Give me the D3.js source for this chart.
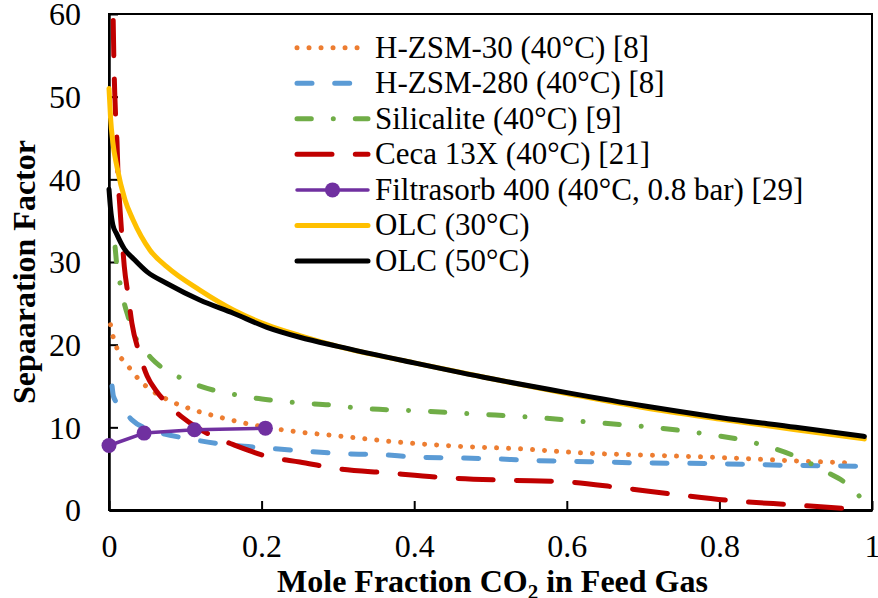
<!DOCTYPE html>
<html>
<head>
<meta charset="utf-8">
<script src="https://cdn.jsdelivr.net/npm/d3@7/dist/d3.min.js"></script>
<style>
  html, body { margin: 0; padding: 0; background: #fff; }
  svg { display: block; }
  svg text { font-family: "Liberation Serif", Tinos, "Times New Roman", Times, "DejaVu Serif", serif !important; fill: #000; }
</style>
</head>
<body>
<svg id="chart" width="878" height="598"></svg>
<script>
// Separation factor vs. CO2 mole fraction in the feed gas
const hzsm30 = [[0.002,22.4],[0.0035,21.6],[0.009,20.1],[0.012,19.0],[0.021,17.9],[0.031,16.7],[0.041,15.6],[0.054,14.6],[0.08,13.2],[0.111,12.1],[0.142,11.3],[0.173,10.6],[0.22,9.8],[0.252,9.4],[0.285,9.1],[0.316,8.8],[0.381,8.2],[0.46,7.7],[0.539,7.4],[0.621,6.9],[0.718,6.6],[0.814,6.3],[0.91,5.9],[0.974,5.7]];
const hzsm280 = [[0.004,15.0],[0.006,13.7],[0.019,12.1],[0.03,10.9],[0.062,9.5],[0.106,8.6],[0.154,7.9],[0.207,7.5],[0.259,7.1],[0.31,6.8],[0.355,6.7],[0.403,6.4],[0.453,6.3],[0.502,6.2],[0.552,6.0],[0.6,5.9],[0.7,5.7],[0.797,5.6],[0.893,5.4],[0.984,5.3]];
const silicalite = [[0.008,31.8],[0.01,29.8],[0.015,27.2],[0.02,25.0],[0.025,23.4],[0.034,21.0],[0.043,19.8],[0.055,18.4],[0.067,17.4],[0.089,16.2],[0.113,15.2],[0.137,14.5],[0.163,14.0],[0.187,13.6],[0.212,13.3],[0.25,12.95],[0.29,12.7],[0.33,12.3],[0.405,12.0],[0.482,11.6],[0.558,11.2],[0.634,10.6],[0.712,10.0],[0.79,9.1],[0.828,8.5],[0.866,7.6],[0.902,6.4],[0.936,4.8],[0.969,3.0],[0.99,1.0]];
const ceca13x = [[0.0055,59.2],[0.0065,54.0],[0.0075,50.5],[0.009,47.0],[0.0105,44.5],[0.012,40.0],[0.014,37.0],[0.017,33.0],[0.02,29.5],[0.025,26.0],[0.03,22.6],[0.04,18.9],[0.05,16.2],[0.062,14.4],[0.076,12.9],[0.095,11.3],[0.115,10.0],[0.139,8.8],[0.163,7.9],[0.211,6.4],[0.25,5.8],[0.3,5.0],[0.364,4.5],[0.443,3.9],[0.52,3.6],[0.6,3.4],[0.67,2.7],[0.75,1.8],[0.82,1.1],[0.9,0.6],[0.975,0.1]];
const filtrasorb = [[0,7.8],[0.046,9.3],[0.112,9.7],[0.205,9.9]];
const olc30 = [[0,51.0],[0.002,47.5],[0.005,44.5],[0.0105,41.5],[0.021,37.5],[0.031,35.2],[0.054,31.4],[0.076,29.4],[0.119,26.6],[0.163,24.2],[0.207,22.4],[0.25,21.1],[0.3,19.8],[0.4,17.8],[0.5,15.9],[0.6,14.1],[0.7,12.4],[0.8,11.0],[0.9,9.7],[0.99,8.6]];
const olc50 = [[0,38.8],[0.002,36.5],[0.005,34.5],[0.01,33.4],[0.02,31.6],[0.032,30.4],[0.05,28.8],[0.076,27.4],[0.119,25.4],[0.163,23.8],[0.207,22.1],[0.25,20.9],[0.3,19.8],[0.4,17.8],[0.5,15.9],[0.6,14.2],[0.7,12.6],[0.8,11.2],[0.9,10.0],[0.99,8.9]];

const seriesNames = ["H-ZSM-30 (40°C) [8]","H-ZSM-280 (40°C) [8]","Silicalite (40°C) [9]","Ceca 13X (40°C) [21]","Filtrasorb 400 (40°C, 0.8 bar) [29]","OLC (30°C)","OLC (50°C)"];
const xTicks = [0, 0.2, 0.4, 0.6, 0.8, 1];
const yTicks = [0, 10, 20, 30, 40, 50, 60];

const styles = [
  { data: hzsm30,     color: "#ED7D31", width: 5, dash: "0.01,12" },
  { data: hzsm280,    color: "#5B9BD5", width: 5, dash: "15,22.7" },
  { data: silicalite, color: "#70AD47", width: 5, dash: "14.3,22,0.01,22" },
  { data: ceca13x,    color: "#C00000", width: 5, dash: "35,23.3" },
  { data: filtrasorb, color: "#7030A0", width: 3.5, dash: null, marker: true },
  { data: olc30,      color: "#FFC000", width: 5, dash: null },
  { data: olc50,      color: "#000000", width: 5, dash: null }
];

const svg = d3.select("#chart");
const plot = { left: 109, right: 872, top: 14, bottom: 510 };

const x = d3.scaleLinear().domain([0, 1]).range([plot.left, plot.right]);
const y = d3.scaleLinear().domain([0, 60]).range([plot.bottom, plot.top]);

// plot frame
svg.append("rect")
  .attr("x", plot.left).attr("y", plot.top)
  .attr("width", plot.right - plot.left).attr("height", plot.bottom - plot.top)
  .attr("fill", "none").attr("stroke", "#000").attr("stroke-width", 2);

// axes with inward ticks
const xAxis = svg.append("g")
  .attr("transform", `translate(0,${plot.bottom})`)
  .call(d3.axisBottom(x).tickValues(xTicks).tickSize(-9).tickSizeOuter(0)
        .tickFormat(d => d3.format("")(d)));
xAxis.attr("font-family", null);
xAxis.select(".domain").attr("stroke-width", 3);
xAxis.selectAll(".tick line").attr("stroke-width", 2);
xAxis.selectAll(".tick text").attr("y", 47).attr("dy", 0).style("font-size", "32px");

const yAxis = svg.append("g")
  .attr("transform", `translate(${plot.left},0)`)
  .call(d3.axisLeft(y).tickValues(yTicks).tickSize(-9).tickSizeOuter(0).tickPadding(28));
yAxis.attr("font-family", null);
yAxis.select(".domain").attr("stroke-width", 2.5);
yAxis.selectAll(".tick line").attr("stroke-width", 2);
yAxis.selectAll(".tick text").attr("dy", "0.34em").style("font-size", "32px");

// axis titles
const xt = svg.append("text")
  .attr("x", (plot.left + plot.right) / 2 + 2).attr("y", 592)
  .attr("text-anchor", "middle")
  .style("font-size", "32px").style("font-weight", "bold");
xt.append("tspan").text("Mole Fraction CO");
xt.append("tspan").attr("dy", 7).style("font-size", "21px").text("2");
xt.append("tspan").attr("dy", -7).text(" in Feed Gas");

svg.append("text")
  .attr("transform", `translate(35,${272}) rotate(-90)`)
  .attr("text-anchor", "middle")
  .style("font-size", "32px").style("font-weight", "bold")
  .text("Sepaaration Factor");

// series
const line = d3.line().x(d => x(d[0])).y(d => y(d[1])).curve(d3.curveMonotoneX);
const straight = d3.line().x(d => x(d[0])).y(d => y(d[1]));

styles.forEach(s => {
  svg.append("path")
    .attr("d", s.marker ? straight(s.data) : line(s.data))
    .attr("fill", "none")
    .attr("stroke", s.color)
    .attr("stroke-width", s.width)
    .attr("stroke-linecap", "round")
    .attr("stroke-linejoin", "round")
    .attr("stroke-dasharray", s.dash);
  if (s.marker) {
    svg.selectAll(null).data(s.data).enter().append("circle")
      .attr("cx", d => x(d[0])).attr("cy", d => y(d[1])).attr("r", 7.5)
      .attr("fill", s.color);
  }
});

// legend
const legend = svg.append("g");
const lx0 = 297, lx1 = 368, ly0 = 47.7, lstep = 35.55;
styles.forEach((s, i) => {
  const cy = ly0 + i * lstep;
  legend.append("line")
    .attr("x1", lx0).attr("x2", lx1).attr("y1", cy).attr("y2", cy)
    .attr("stroke", s.color).attr("stroke-width", s.width)
    .attr("stroke-linecap", "round")
    .attr("stroke-dasharray", s.dash);
  if (s.marker) {
    legend.append("circle").attr("cx", (lx0 + lx1) / 2).attr("cy", cy).attr("r", 7.5).attr("fill", s.color);
  }
  legend.append("text")
    .attr("x", 375).attr("y", cy + 10)
    .style("font-size", "31px")
    .text(seriesNames[i]);
});
</script>
</body>
</html>
